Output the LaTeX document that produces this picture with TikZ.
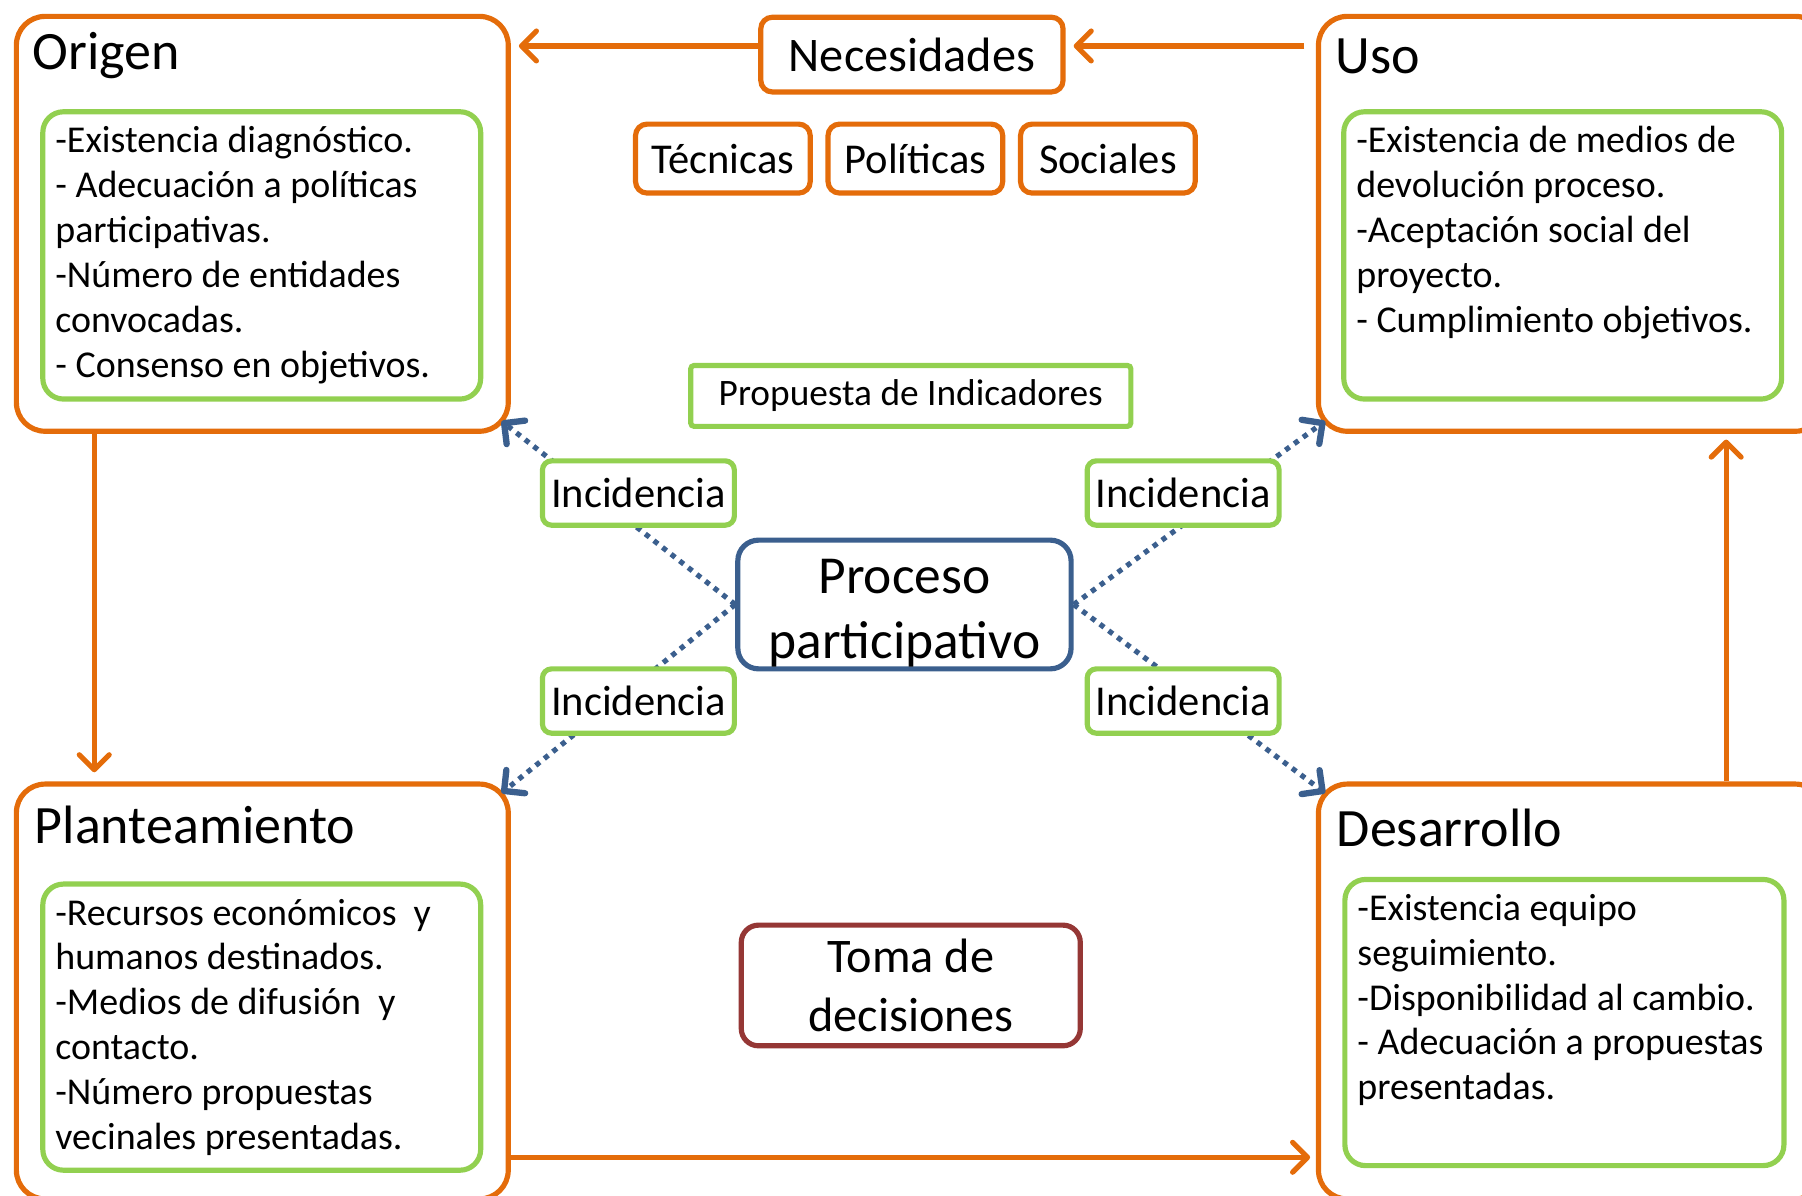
\documentclass[tikz,border=0pt]{standalone}
\usepackage{fontspec}
\setmainfont{Carlito}
\usetikzlibrary{arrows.meta,positioning}

\definecolor{naranja}{HTML}{E46C0A}
\definecolor{verde}{HTML}{92D050}
\definecolor{azul}{HTML}{3B5F8E}
\definecolor{granate}{HTML}{953735}

\newcommand{\tamTitulo}{\fontsize{47}{56}\selectfont}
\newcommand{\tamLista}{\fontsize{33}{39}\selectfont}

\begin{document}
\begin{tikzpicture}[x=1pt,y=-1pt,
  etapa/.style={draw=naranja, line width=4.5pt, rounded corners=25pt, anchor=north west,
    minimum width=428pt, minimum height=361pt, inner sep=0pt},
  titulo/.style={anchor=west, font=\tamTitulo, inner sep=0pt},
  lista/.style={draw=verde, line width=4.5pt, rounded corners=18pt, anchor=north west,
    minimum width=381pt, minimum height=250pt, inner sep=0pt},
  texto/.style={anchor=north west, align=left, font=\tamLista, inner xsep=13pt, inner ysep=15pt},
  etiqueta/.style={draw=naranja, line width=4.5pt, rounded corners=10pt, minimum height=60pt,
    minimum width=152pt, inner sep=0pt, font=\fontsize{37}{44}\selectfont},
  incidencia/.style={draw=verde, fill=white, line width=4.5pt, rounded corners=8pt,
    minimum width=167pt, minimum height=56pt, inner sep=0pt, font=\fontsize{37}{44}\selectfont},
  flecha/.style={draw=naranja, line width=4.5pt,
    -{Straight Barb[length=13pt,width=26pt,round,line width=4.5pt]}},
  punteada/.style={draw=azul, line width=4.5pt, dash pattern=on 4.5pt off 5pt,
    -{Straight Barb[length=13pt,width=26pt,round,line width=5.5pt]}},
]
\useasboundingbox (0,0) rectangle (1568,1040);

% etapas
\node[etapa] (origen) at (12,12) {};
\node[titulo] (origentit) at (28,48) {Origen};
\node[lista] (origenlista) at (35,95) {};
\node[texto] (origentxt) at (origenlista.north west) {-Existencia diagnóstico.\\
- Adecuación a políticas\\
participativas.\\
-Número de entidades\\
convocadas.\\
- Consenso en objetivos.};

\node[etapa, minimum width=440pt] (uso) at (1145,12) {};
\node[titulo] (usotit) at (1162,49) {Uso};
\node[lista] (usolista) at (1167,95) {};
\node[texto] (usotxt) at (usolista.north west) {-Existencia de medios de\\
devolución proceso.\\
-Aceptación social del\\
proyecto.\\
- Cumplimiento objetivos.};

\node[etapa] (plant) at (12,680) {};
\node[titulo] (planttit) at (30,718) {Planteamiento};
\node[lista, minimum height=249pt] (plantlista) at (35,767) {};
\node[texto] (planttxt) at (plantlista.north west) {-Recursos económicos \ y\\
humanos destinados.\\
-Medios de difusión \ y\\
contacto.\\
-Número propuestas\\
vecinales presentadas.};

\node[etapa, minimum width=440pt] (desarrollo) at (1145,680) {};
\node[titulo] (desarrollotit) at (1163,720) {Desarrollo};
\node[lista, minimum width=382pt, minimum height=249pt] (desarrollolista) at (1168,763) {};
\node[texto] (desarrollotxt) at (desarrollolista.north west) {-Existencia equipo\\
seguimiento.\\
-Disponibilidad al cambio.\\
- Adecuación a propuestas\\
presentadas.};

% necesidades
\node[etiqueta, minimum width=263pt, minimum height=65pt, font=\fontsize{42}{50}\selectfont] (necesidades) at (793.5,47.5) {Necesidades};
\node[etiqueta] (tecnicas) at (629,138) {Técnicas};
\node[etiqueta, right=11pt of tecnicas] (politicas) {Políticas};
\node[etiqueta, right=11pt of politicas] (sociales) {Sociales};

\node[draw=verde, line width=4.5pt, rounded corners=3pt, minimum width=383pt, minimum height=53pt,
  inner sep=0pt, font=\fontsize{32.5}{39}\selectfont] (propuesta) at (792.5,344.5) {Propuesta de Indicadores};

\node[draw=azul, line width=4.5pt, rounded corners=18pt, minimum width=290pt, minimum height=112pt,
  inner sep=0pt, align=center, font=\fontsize{46.5}{56}\selectfont] (proceso) at (787,526) {\rule{0pt}{45pt}Proceso\\participativo};

\node[draw=granate, line width=4.5pt, rounded corners=15pt, minimum width=295pt, minimum height=105pt,
  inner sep=0pt, align=center, font=\fontsize{42}{51}\selectfont] (toma) at (792.5,857.5) {Toma de\\decisiones};

% ciclo
\coordinate (nivel) at (0,40);
\coordinate (colizq) at (82,0);
\coordinate (colder) at (1502,0);
\coordinate (filainf) at (0,1007);
\draw[flecha, shorten <=10pt, shorten >=7pt] (uso.west |- nivel) -- (necesidades.east |- nivel);
\draw[flecha, shorten >=7pt] (necesidades.west |- nivel) -- (origen.east |- nivel);
\draw[flecha, shorten >=8pt] (origen.south -| colizq) -- (plant.north -| colizq);
\draw[flecha, shorten >=5pt] (plant.east |- filainf) -- (desarrollo.west |- filainf);
\draw[flecha, shorten >=5pt] (desarrollo.north -| colder) -- (uso.south -| colder);

% incidencias
\draw[punteada] (proceso.west) -- ([xshift=-8pt,yshift=11pt]origen.south east);
\draw[punteada] (proceso.west) -- ([xshift=-8pt,yshift=-10pt]plant.north east);
\draw[punteada] (proceso.east) -- ([xshift=8pt,yshift=11pt]uso.south west);
\draw[punteada] (proceso.east) -- ([xshift=8pt,yshift=-10pt]desarrollo.north west);
\node[incidencia] (inc1) at (555.5,429) {Incidencia};
\node[incidencia] (inc2) at (1029.5,429) {Incidencia};
\node[incidencia] (inc3) at (555.5,610) {Incidencia};
\node[incidencia] (inc4) at (1029.5,610) {Incidencia};
\end{tikzpicture}
\end{document}
